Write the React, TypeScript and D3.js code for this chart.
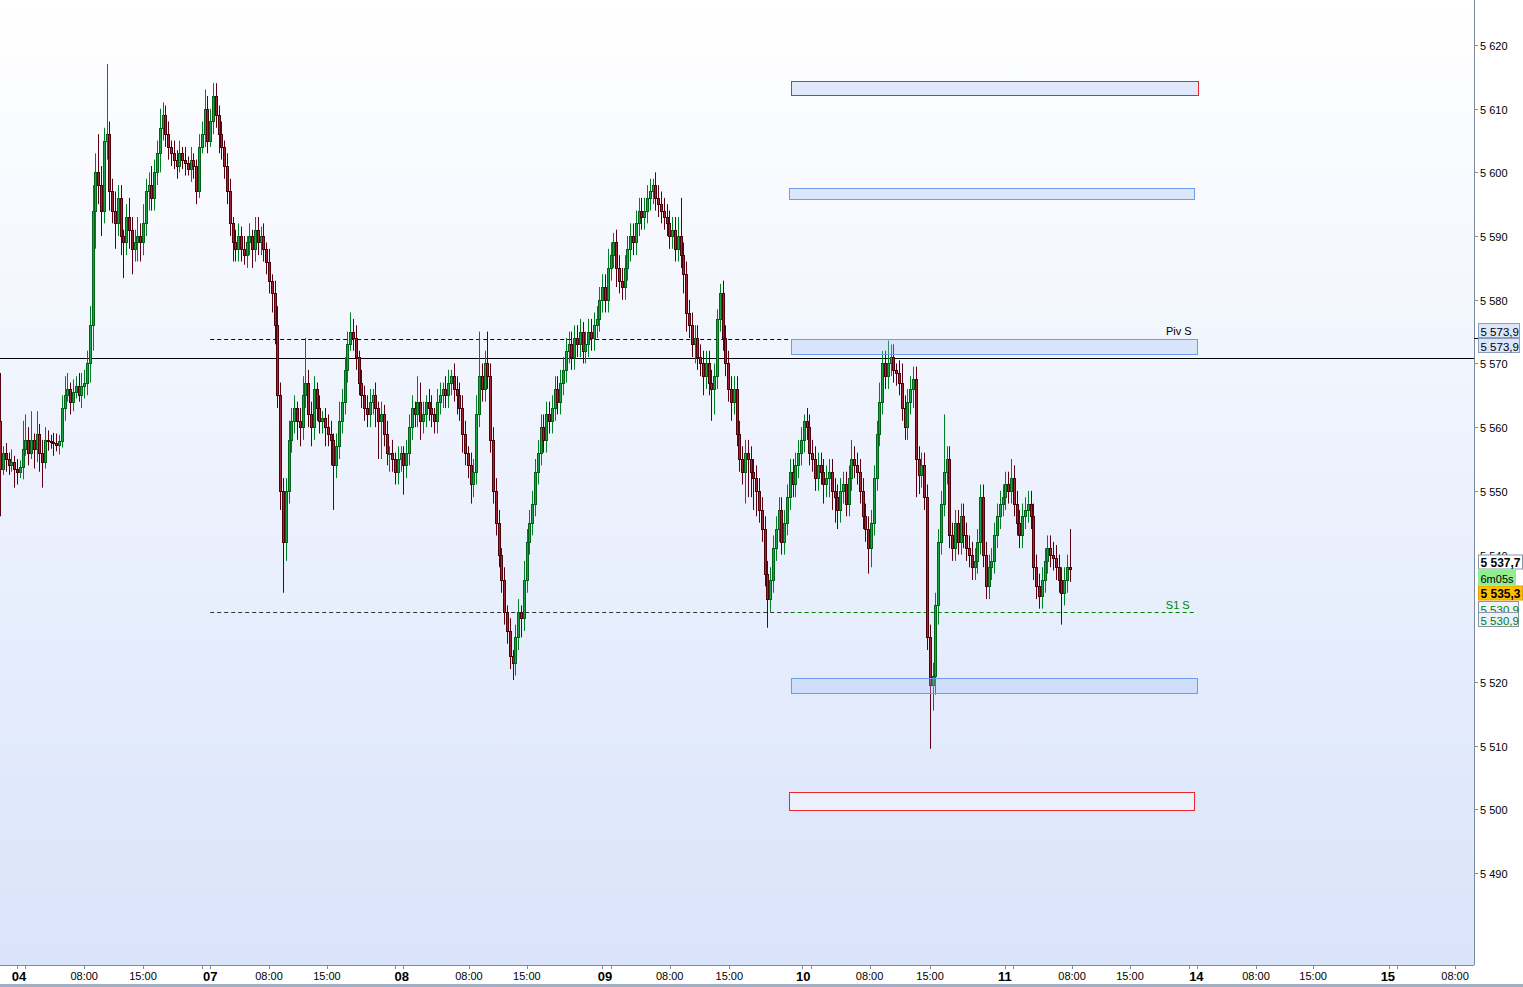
import * as d3 from "d3";

// ---- canvas / frame ----
const W = 1523;
const H = 987;
const PLOT_R = 1474;
const PLOT_B = 965;

// ---- time axis: chart hours from 04 00:00 (sessions compressed) ----
// [label, session start (tick), label centre]
const dayTicks: [string, number, number][] = [
  ["04", 0, 0.24], ["07", 22, 23], ["08", 45, 45.8], ["09", 69.7, 70], ["10", 93.5, 93.6],
  ["11", 117.6, 117.6], ["14", 139.5, 140.4], ["15", 163.3, 163.2],
];
const hourTicks: [string, number][] = [
  ["08:00", 8], ["15:00", 15], ["08:00", 30], ["15:00", 36.9], ["08:00", 53.8], ["15:00", 60.7],
  ["08:00", 77.7], ["15:00", 84.8], ["08:00", 101.5], ["15:00", 108.7], ["08:00", 125.6], ["15:00", 132.5],
  ["08:00", 147.5], ["15:00", 154.3], ["08:00", 171.2],
];
const priceTicks = [5490, 5500, 5510, 5520, 5550, 5560, 5570, 5580, 5590, 5600, 5610, 5620];
const hiddenTick = 5540; // partly covered by the last-price box

// ---- 20 minute bars ----
const BAR_START = -2; // hours
const BAR_STEP = 1 / 3;
const firstOpen = 5561;

const day04Close = [
  5553.5, 5556, 5555, 5554, 5554.5, 5553.5, 5553, 5553.8, 5556.5, 5558,
  5556, 5558, 5556.5, 5559, 5556, 5554.5, 5558, 5557.8, 5557.6, 5557.5,
  5557.2, 5557.8, 5563, 5565, 5566, 5564, 5565.5, 5566.5, 5565, 5566.5,
  5567, 5570, 5576, 5594, 5600, 5598, 5594, 5605, 5606, 5597,
  5594, 5592, 5596, 5590, 5589, 5593, 5591, 5588, 5589, 5590,
  5589, 5592, 5597, 5598, 5596, 5600, 5603, 5607, 5609, 5606,
  5604, 5603, 5602, 5601, 5603, 5602, 5601.5, 5600.5, 5602, 5601,
  5597, 5604,
];
const day04Up = [
  7.5, 1, 1.5, 1, 2, 1, 1.5, 1, 4.5, 4, 2, 4.5, 1, 3.5, 1.5, 2, 2, 1.5, 1, 1.5,
  1.5, 1, 2, 3, 2.5, 1, 2, 1.5, 2, 2, 2, 2, 3, 4, 3, 6, 3, 2, 11, 2,
  2, 3, 2, 2, 1, 2, 3, 2, 2, 3, 2, 3, 2, 2, 3, 2, 2, 3, 2, 1.5,
  2, 1, 2, 1.5, 2, 1, 2, 1, 2, 1, 1, 2,
];
const day04Dn = [
  7.5, 1, 2, 1.5, 1, 3, 2, 1, 2, 1, 2, 1, 3, 2, 3, 4, 1, 1.5, 1, 2,
  1, 1.5, 1, 2, 1, 2, 1.5, 1, 1, 2, 2, 2, 3, 4, 6, 3, 4, 2, 3, 3,
  2, 4, 2, 3, 5.6, 2, 3, 4, 2, 3, 3, 2, 2, 3, 2, 2, 2, 3, 2, 2,
  2, 2, 1.5, 2, 1, 1.5, 2, 1, 2, 2, 2, 1,
];

const day07Close = [
  5606, 5610, 5605, 5608, 5612, 5609, 5606, 5604, 5601, 5597,
  5592, 5589, 5588, 5590, 5588, 5587, 5589, 5590, 5588, 5591,
  5589, 5590, 5588, 5586, 5583, 5581, 5576, 5565, 5550, 5542,
  5550, 5558, 5561, 5563, 5561, 5560, 5565, 5567, 5562, 5560,
  5566, 5563, 5561, 5561.5, 5560, 5559, 5558, 5554, 5557, 5561,
  5564, 5569, 5573, 5575, 5574, 5571, 5567, 5565, 5563, 5562,
  5564, 5565, 5563, 5561, 5562, 5559, 5556, 5556, 5555, 5553, 5555, 5556,
];
const day07Up = [
  2, 3, 2, 2, 2, 2, 1.5, 2, 1, 2, 2, 1, 2, 2, 1.5, 2, 1, 2, 1, 2,
  2, 1.5, 2, 1, 2, 1, 2, 3, 2, 2, 2, 3, 2, 2, 1, 2, 3, 7, 2, 2,
  2, 1, 2, 1, 1.5, 2, 2, 1, 2, 3, 2, 2, 2, 3, 2, 2, 1, 2, 1.5, 2,
  2, 1, 2, 1, 2, 1.5, 2, 1, 2, 1, 2, 1,
];
const day07Dn = [
  1, 2, 2, 1, 2, 2, 3, 2, 2, 2, 2, 3, 2, 2, 2, 1.5, 2, 2, 3, 2,
  2, 2, 2, 2, 2, 3, 3, 2, 3, 8, 3, 2, 2, 2, 3, 3, 2, 2, 2, 3,
  2, 2, 2, 2, 3, 2, 4, 7, 2, 2, 2, 2, 2, 1, 2, 2, 2, 2, 2, 2,
  2, 2, 3, 6, 6, 2, 2, 3, 2, 2, 2, 2,
];

const day08Close = [
  5554, 5556, 5560, 5563, 5562, 5564, 5561, 5562, 5564, 5563,
  5562, 5561, 5564, 5565, 5566, 5565, 5567, 5568, 5566, 5565,
  5563, 5559, 5556, 5554, 5551, 5553, 5562, 5568, 5566, 5570,
  5568, 5558, 5550, 5545, 5540, 5536, 5531, 5528, 5524, 5523,
  5527, 5531, 5530, 5536, 5542, 5545, 5548, 5553, 5556, 5560,
  5558, 5562, 5561, 5563, 5566, 5564, 5567, 5569, 5572, 5573,
  5571, 5574, 5573, 5575, 5572, 5573, 5575, 5574, 5576, 5577, 5580,
];
const day08Up = [
  1, 2, 2, 2, 1, 4, 3, 2, 1, 2, 2, 1, 2, 2, 1, 2, 2, 1, 2, 2,
  2, 2, 2, 1, 2, 2, 3, 7, 2, 2, 5, 2, 2, 2, 2, 1, 2, 1, 2, 1,
  2, 2, 1, 3, 2, 2, 2, 2, 2, 2, 2, 2, 2, 2, 2, 2, 2, 2, 2, 2,
  2, 2, 2, 2, 1.5, 2, 2, 2, 2, 2, 2,
];
const day08Dn = [
  4.6, 2, 2, 2, 2, 2, 3, 2, 2, 2, 2, 2, 2, 2, 2, 2, 2, 2, 2, 3,
  2, 3, 2, 2, 3, 2, 2, 2, 2, 2, 2, 2, 2, 2, 2, 2, 2, 2, 2, 2.7,
  2, 2, 3, 2, 2, 2, 2, 2, 2, 2, 2, 2, 2, 2, 2, 2, 2, 2, 2, 2,
  2, 2, 2, 2, 2, 2, 2, 2, 2, 2, 2,
];

const day09Close = [
  5582, 5580, 5585, 5587, 5589, 5585, 5583, 5582, 5585, 5588,
  5590, 5589, 5592, 5594, 5593, 5594, 5596, 5597, 5598, 5596,
  5595, 5594, 5593, 5592, 5590, 5591, 5588, 5590, 5587, 5584,
  5578, 5576, 5573, 5574, 5571, 5570, 5568, 5570, 5567, 5566,
  5568, 5577, 5581, 5574, 5570, 5566, 5564, 5566, 5559, 5555,
  5553, 5556, 5555, 5553, 5552, 5550, 5547, 5544, 5537, 5533,
  5536, 5541, 5544, 5547, 5542, 5545, 5549, 5553, 5551, 5554, 5556,
];
const day09Up = [
  2, 2, 3, 2, 1.5, 2, 2, 2, 2, 2, 2, 2, 2, 2, 2, 2, 2, 2, 1, 2,
  2, 2, 2, 2, 2, 2, 2, 3, 6, 2, 2, 2, 2, 2, 2, 2, 2, 2, 2, 2,
  2, 1.5, 1.5, 2, 2, 2, 2, 2, 2, 2, 2, 2, 2, 2, 2, 2, 2, 2, 2, 2,
  2, 2, 2, 2, 2, 2, 2, 2, 2, 2, 2,
];
const day09Dn = [
  2, 2, 2, 2, 2, 3, 2, 2, 2, 2, 2, 2, 2, 2, 2, 2, 2, 2, 2, 2,
  2, 2, 2, 2, 2, 2, 2, 2, 2, 3, 3, 2, 2, 3, 2, 2, 3, 2, 2, 5,
  4, 2, 2, 2, 2, 2, 3, 2, 2, 2, 2, 5, 6, 4, 5, 4, 2, 2, 2, 4.5,
  2, 2, 2, 2, 2, 2, 2, 2, 2, 2, 2,
];

const day10Close = [
  5558, 5561, 5560, 5556, 5555, 5552, 5554, 5553, 5551, 5552,
  5553, 5550, 5549, 5547, 5550, 5551, 5548, 5552, 5555, 5554,
  5553, 5550, 5546, 5544, 5541, 5545, 5552, 5559, 5564, 5570,
  5568, 5570, 5571, 5569, 5568.5, 5567, 5563, 5560, 5564, 5566,
  5567.5, 5555, 5552.5, 5554, 5549, 5527, 5519.5, 5521, 5532, 5542,
  5548, 5553, 5555, 5543, 5541, 5545, 5542, 5546, 5543, 5541,
  5540, 5538, 5539, 5542, 5549, 5540, 5535, 5538, 5539, 5543, 5546, 5548,
];
const day10Up = [
  2, 1, 2, 2, 2, 2, 2, 2, 2, 2, 2, 2, 2, 2, 2, 2, 2, 2, 3, 2,
  2, 2, 2, 2, 2, 2, 2, 2, 3, 2, 2, 3.6, 2, 2, 1, 2, 3, 2, 2, 2,
  2, 2, 2, 2, 2, 2, 2, 2, 2, 2, 2, 9, 2, 2, 2, 2, 2, 2, 2, 2,
  2, 2, 2, 2, 2, 2, 2, 2, 2, 2, 2, 2,
];
const day10Dn = [
  2, 2, 2, 2, 2, 2, 2, 2, 3, 2, 3, 3, 4, 3, 2, 2, 2, 2, 2, 2,
  2, 2, 2, 2, 4, 3, 2, 2, 2, 2, 2, 2, 2, 2, 2, 2, 2, 2, 2, 2,
  3, 6, 3, 2, 2, 2, 10, 4, 3, 3, 2, 2, 2, 2, 2, 2, 2, 2, 2, 2,
  2, 2, 2, 2, 2, 2, 2, 2, 2, 2, 2, 2,
];

const day11Close = [
  5549, 5551, 5550, 5552, 5548, 5545, 5543, 5546, 5547, 5548,
  5546, 5538, 5535, 5533.5, 5536, 5539, 5541, 5540, 5539.5, 5538, 5536,
  5534, 5536, 5538, 5537.7,
];
const day11Up = [2, 2, 2, 3, 2, 2, 2, 2, 2, 2, 2, 2, 2, 2, 2, 2, 2, 2, 2, 2, 2, 2, 2, 2, 6];
const day11Dn = [2, 2, 2, 2, 2, 2, 2, 2, 2, 2, 2, 2, 2, 2, 2, 2, 2, 2, 2, 2, 2, 5, 2, 2, 2];

// ---- levels and zones ----
const pivS = 5573.9;
const s1S = 5530.9;
const refLine = 5570.9;
const lastPrice = 5537.7;
const bidPrice = 5535.3;
const levelStart = 23; // hours
const zoneStart = 92.1;
const levelEnd = 140.2;
// [h0, h1, top price, bottom price, kind]
const zones: [number, number, number, number, string][] = [
  [92.1, 140.6, 5614.3, 5612.1, "red"],
  [91.9, 140.1, 5597.5, 5595.8, "blue"],
  [92.1, 140.4, 5573.8, 5571.5, "blue"],
  [92.1, 140.4, 5520.6, 5518.3, "blue"],
  [91.9, 140.1, 5502.7, 5499.9, "redEmpty"],
];

const FONT = "'Liberation Sans', Arial, sans-serif";

function fmtPrice(v: number, dec = 0) {
  const s = v.toFixed(dec).replace(".", ",");
  return s.slice(0, 1) + " " + s.slice(1);
}

export default function App() {
  const x = d3.scaleLinear().domain([0, 100]).range([17, 857]);
  const y = d3.scaleLinear().domain([5620, 5490]).range([45, 873]);
  const py = (p: number) => Math.round(y(p)) + 0.5;

  const closes = [...day04Close, ...day07Close, ...day08Close, ...day09Close, ...day10Close, ...day11Close];
  const ups = [...day04Up, ...day07Up, ...day08Up, ...day09Up, ...day10Up, ...day11Up];
  const dns = [...day04Dn, ...day07Dn, ...day08Dn, ...day09Dn, ...day10Dn, ...day11Dn];

  const bars = closes.map((c, i) => {
    const o = i === 0 ? firstOpen : closes[i - 1];
    const hi = Math.max(o, c) + (ups[i] ?? 1);
    const lo = Math.min(o, c) - (dns[i] ?? 1);
    return { i, o, c, hi, lo, t: BAR_START + i * BAR_STEP };
  });

  const rightLabels = [
    { y: 331, text: fmtPrice(pivS, 1), fill: "#dbe6fb", stroke: "#8aa0c0", color: "#000", bold: false, w: 41, fs: 11.5 },
    { y: 346, text: fmtPrice(pivS, 1), fill: "#dbe6fb", stroke: "#8aa0c0", color: "#000", bold: false, w: 41, fs: 11.5 },
    { y: 562.5, text: fmtPrice(lastPrice, 1), fill: "#ffffff", stroke: "#8a96a6", color: "#000", bold: true, w: 44, fs: 12 },
    { y: 578, text: "6m05s", fill: "#90ee90", stroke: "#90ee90", color: "#000", bold: false, w: 37, fs: 11 },
    { y: 593.5, text: fmtPrice(bidPrice, 1), fill: "#ffc000", stroke: "#e0a000", color: "#000", bold: true, w: 44, fs: 12 },
    { y: 609, text: fmtPrice(s1S, 1), fill: "#eef3fe", stroke: "#8a96a6", color: "#008000", bold: false, w: 40, fs: 11.5 },
    { y: 620, text: fmtPrice(s1S, 1), fill: "#eef3fe", stroke: "#8a96a6", color: "#008000", bold: false, w: 40, fs: 11.5 },
  ];

  return (
    <svg
      width={W}
      height={H}
      style={{ position: "absolute", left: 0, top: 0, fontFamily: FONT }}
    >
      <defs>
        <linearGradient id="bg" x1="0" y1="0" x2="0" y2="1">
          <stop offset="0" stopColor="#ffffff" />
          <stop offset="1" stopColor="#d9e4fb" />
        </linearGradient>
        <clipPath id="plot">
          <rect x={0} y={0} width={PLOT_R} height={PLOT_B} />
        </clipPath>
        <clipPath id="axisTop">
          <rect x={PLOT_R} y={540} width={W - PLOT_R} height={15} />
        </clipPath>
      </defs>

      <rect x={0} y={0} width={W} height={H} fill="#ffffff" />
      <rect x={0} y={0} width={PLOT_R} height={PLOT_B} fill="url(#bg)" />

      <g clipPath="url(#plot)">
        {/* reference line */}
        <line x1={0} x2={PLOT_R} y1={py(refLine)} y2={py(refLine)} stroke="#000" />

        {/* pivot levels: previous session part dark, current session part coloured */}
        <line x1={x(levelStart)} x2={x(levelEnd)} y1={py(pivS)} y2={py(pivS)} stroke="#000" strokeDasharray="4,3" />
        <line x1={x(levelStart)} x2={x(zoneStart)} y1={py(s1S)} y2={py(s1S)} stroke="#333" strokeDasharray="4,3" />
        <line x1={x(zoneStart)} x2={x(levelEnd)} y1={py(s1S)} y2={py(s1S)} stroke="#008000" strokeDasharray="4,3" />

        {/* candles */}
        {bars.map((b) => {
          const cx = Math.round(x(b.t));
          const up = b.c >= b.o;
          const top = Math.round(y(Math.max(b.o, b.c))) + 0.5;
          const bot = Math.round(y(Math.min(b.o, b.c))) + 0.5;
          return (
            <g key={b.i}>
              <line x1={cx + 0.5} x2={cx + 0.5} y1={y(b.hi)} y2={y(b.lo)} stroke={up ? "#008020" : "#5a0010"} strokeWidth={1} />
              <rect
                x={cx - 0.5}
                y={top}
                width={2}
                height={Math.max(1, bot - top)}
                fill={up ? "#16a648" : "#a62434"}
                stroke={up ? "#006418" : "#500008"}
                strokeWidth={1}
              />
            </g>
          );
        })}

        {/* zones */}
        {zones.map(([h0, h1, pt, pb, kind], i) => (
          <rect
            key={i}
            x={Math.round(x(h0)) + 0.5}
            y={py(pt)}
            width={Math.round(x(h1) - x(h0))}
            height={Math.round(y(pb) - y(pt))}
            fill={kind === "redEmpty" ? "rgba(255,255,255,0.35)" : "rgba(160,190,245,0.3)"}
            stroke={kind === "blue" ? "#6b9cf0" : "#e8282c"}
            strokeWidth={1}
          />
        ))}

        <text x={x(levelEnd) - 3} y={y(pivS) - 4} fontSize={11} textAnchor="end" fill="#000">Piv S</text>
        <text x={x(levelEnd) - 5} y={y(s1S) - 3} fontSize={11} textAnchor="end" fill="#008000">S1 S</text>
      </g>

      {/* right axis */}
      <line x1={PLOT_R + 0.5} x2={PLOT_R + 0.5} y1={0} y2={PLOT_B} stroke="#7d8c9c" />
      {priceTicks.map((p) => (
        <g key={p} transform={`translate(${PLOT_R},${py(p)})`}>
          <line x1={0} x2={4} stroke="#7d8c9c" />
          <text x={6} y={4} fontSize={11} fill="#000">{fmtPrice(p)}</text>
        </g>
      ))}
      <g clipPath="url(#axisTop)">
        <g transform={`translate(${PLOT_R},${py(hiddenTick)})`}>
          <line x1={0} x2={4} stroke="#7d8c9c" />
          <text x={6} y={4} fontSize={11} fill="#000">{fmtPrice(hiddenTick)}</text>
        </g>
      </g>
      <line x1={PLOT_R} x2={PLOT_R + 4} y1={338.5} y2={338.5} stroke="#000" />
      {rightLabels.map((l, i) => (
        <g key={i} transform={`translate(${PLOT_R + 4},${l.y})`}>
          <rect x={0.5} y={-7.5} width={l.w} height={14} fill={l.fill} stroke={l.stroke} />
          <text x={2.5} y={4.5} fontSize={l.fs} fontWeight={l.bold ? "bold" : "normal"} fill={l.color}>
            {l.text}
          </text>
        </g>
      ))}

      {/* bottom axis */}
      <rect x={0} y={PLOT_B} width={W} height={20} fill="#ffffff" />
      <line x1={0} x2={PLOT_R} y1={PLOT_B + 0.5} y2={PLOT_B + 0.5} stroke="#7d8c9c" />
      <rect x={0} y={984} width={W} height={3} fill="#9fb0c4" />
      {dayTicks.map(([lab, h, hl]) => (
        <g key={lab}>
          <line x1={Math.round(x(h)) + 0.5} x2={Math.round(x(h)) + 0.5} y1={PLOT_B} y2={PLOT_B + 4} stroke="#7d8c9c" />
          <line x1={Math.round(x(h + 1)) + 0.5} x2={Math.round(x(h + 1)) + 0.5} y1={PLOT_B} y2={PLOT_B + 4} stroke="#7d8c9c" />
          <text x={x(hl)} y={981} fontSize={13} fontWeight="bold" textAnchor="middle" fill="#000">{lab}</text>
        </g>
      ))}
      {hourTicks.map(([lab, h], i) => (
        <g key={i}>
          <line x1={Math.round(x(h)) + 0.5} x2={Math.round(x(h)) + 0.5} y1={PLOT_B} y2={PLOT_B + 4} stroke="#7d8c9c" />
          <text x={x(h)} y={980} fontSize={11} textAnchor="middle" fill="#000">{lab}</text>
        </g>
      ))}
    </svg>
  );
}
